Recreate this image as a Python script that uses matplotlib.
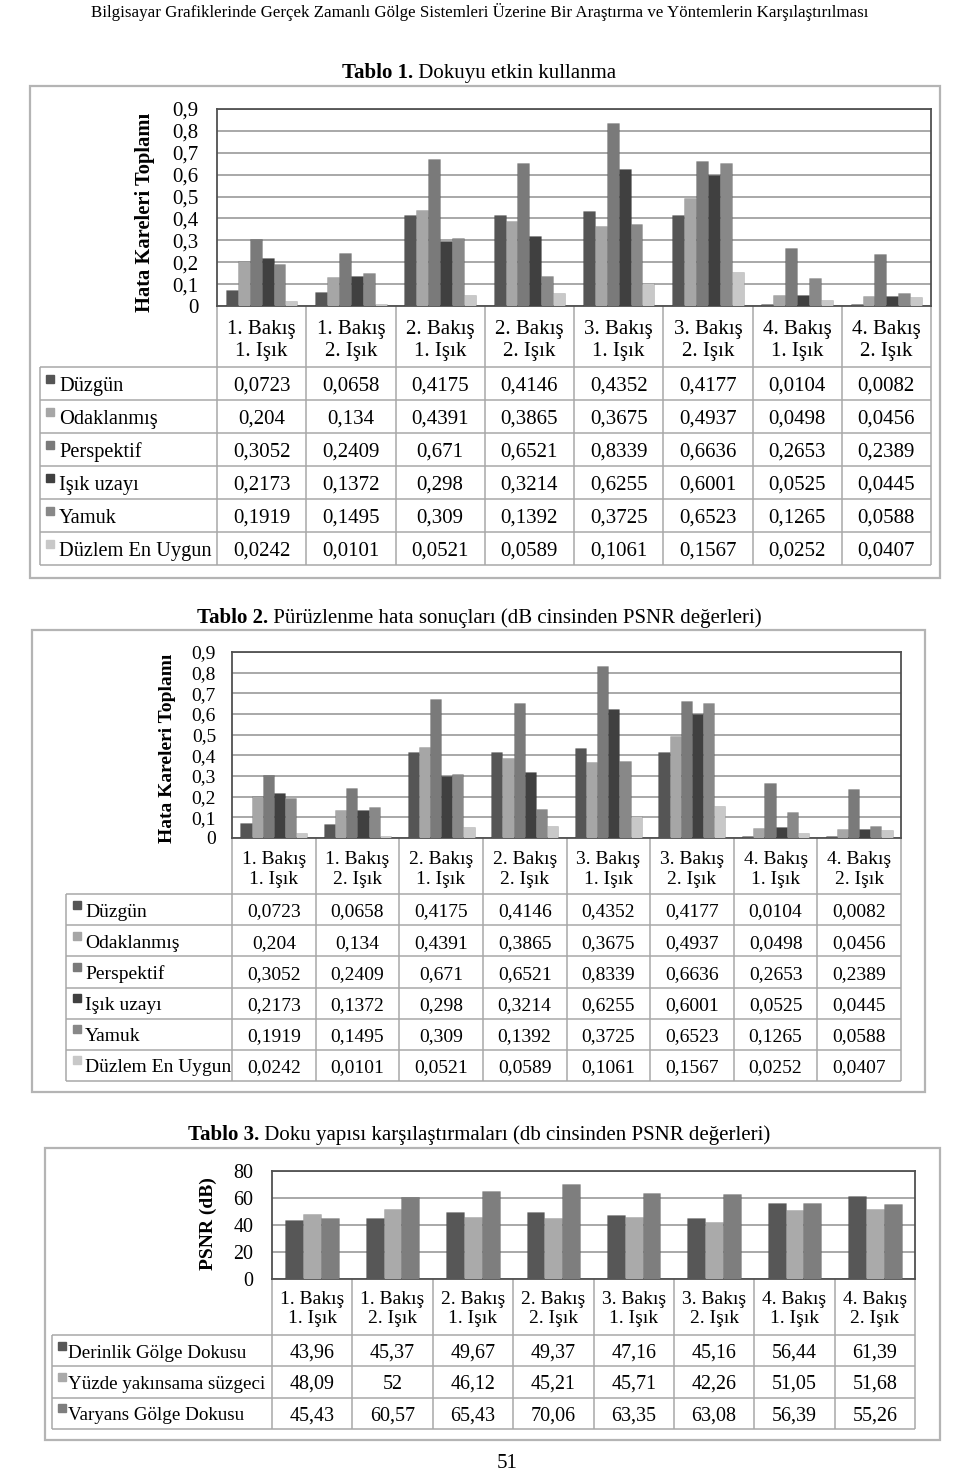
import numpy as np
import matplotlib
matplotlib.use('Agg')
import matplotlib.pyplot as plt
from matplotlib.patches import Rectangle
from matplotlib.ticker import FuncFormatter

plt.rcParams['font.family'] = ['Liberation Serif', 'DejaVu Serif']

# kategoriler
kategoriler = ["1. Bakış\n1. Işık", "1. Bakış\n2. Işık", "2. Bakış\n1. Işık", "2. Bakış\n2. Işık",
               "3. Bakış\n1. Işık", "3. Bakış\n2. Işık", "4. Bakış\n1. Işık", "4. Bakış\n2. Işık"]

# Tablo 1 / Tablo 2 verisi (hata kareleri toplami)
duzgun = [0.0723, 0.0658, 0.4175, 0.4146, 0.4352, 0.4177, 0.0104, 0.0082]
odaklanmis = [0.204, 0.134, 0.4391, 0.3865, 0.3675, 0.4937, 0.0498, 0.0456]
perspektif = [0.3052, 0.2409, 0.671, 0.6521, 0.8339, 0.6636, 0.2653, 0.2389]
isik_uzayi = [0.2173, 0.1372, 0.298, 0.3214, 0.6255, 0.6001, 0.0525, 0.0445]
yamuk = [0.1919, 0.1495, 0.309, 0.1392, 0.3725, 0.6523, 0.1265, 0.0588]
duzlem = [0.0242, 0.0101, 0.0521, 0.0589, 0.1061, 0.1567, 0.0252, 0.0407]
hata_isimler = ["Düzgün", "Odaklanmış", "Perspektif", "Işık uzayı", "Yamuk", "Düzlem En Uygun"]
hata_renkler = ['#555555', '#a6a6a6', '#7a7a7a', '#404040', '#888888', '#c8c8c8']

# Tablo 3 verisi (PSNR)
derinlik = [43.96, 45.37, 49.67, 49.37, 47.16, 45.16, 56.44, 61.39]
yuzde = [48.09, 52, 46.12, 45.21, 45.71, 42.26, 51.05, 51.68]
varyans = [45.43, 60.57, 65.43, 70.06, 63.35, 63.08, 56.39, 55.26]
psnr_isimler = ["Derinlik Gölge Dokusu", "Yüzde yakınsama süzgeci", "Varyans Gölge Dokusu"]
psnr_renkler = ['#575757', '#aaaaaa', '#7e7e7e']

W, H = 960, 1474
fig = plt.figure(figsize=(W / 100, H / 100), dpi=100)
fig.patch.set_facecolor('white')

# sayfa katmani (piksel koordinatlari)
ov = fig.add_axes([0, 0, 1, 1])
ov.set_xlim(0, W)
ov.set_ylim(H, 0)
ov.axis('off')

renderer = fig.canvas.get_renderer()
CIZGI = '#a8a8a8'


def baslik(y, kalin, normal, fs):
    t1 = ov.text(0, y, kalin, fontsize=fs, fontweight='bold', va='center', ha='left')
    t2 = ov.text(0, y, normal, fontsize=fs, va='center', ha='left')
    w1 = t1.get_window_extent(renderer).width
    w2 = t2.get_window_extent(renderer).width
    x0 = 479 - (w1 + w2) / 2
    t1.set_x(x0)
    t2.set_x(x0 + w1)


def virgul(v):
    return f"{v:g}".replace('.', ',')


def grafik(cerceve, alan, alt, seriler, renkler, ylim, yticks, fs_tick, fs_kat, pad, kat_pad):
    fx0, fy0, fx1, fy1 = cerceve
    ov.add_patch(Rectangle((fx0, fy0), fx1 - fx0, fy1 - fy0, fill=False,
                           edgecolor='#b4b4b4', lw=1.6))
    x0, y0, x1, y1 = alan
    ax = fig.add_axes([x0 / W, 1 - y1 / H, (x1 - x0) / W, (y1 - y0) / H])
    n = len(seriler)
    w = 1 / (n + 1.5)
    xs = np.arange(len(kategoriler))
    for i, (s, c) in enumerate(zip(seriler, renkler)):
        ax.bar(xs + (i - (n - 1) / 2) * w, s, width=w, color=c,
               edgecolor='#00000030', lw=0.4, zorder=3)
    ax.set_xlim(-0.5, len(kategoriler) - 0.5)
    ax.set_ylim(*ylim)
    ax.set_yticks(yticks)
    ax.yaxis.set_major_formatter(FuncFormatter(lambda v, p: virgul(round(v, 2))))
    ax.tick_params(axis='y', length=0, pad=pad, labelsize=fs_tick)
    ax.set_xticks(xs)
    ax.set_xticklabels(kategoriler, fontsize=fs_kat, linespacing=1.2)
    ax.tick_params(axis='x', length=0, pad=kat_pad)
    ax.grid(axis='y', color='#9a9a9a', lw=1.2)
    ax.set_axisbelow(True)
    for sp in ax.spines.values():
        sp.set_color('#505050')
        sp.set_linewidth(1.3)

    # kategori sirasi ayiricilari
    hucre = (x1 - x0) / len(kategoriler)
    kenarlar = [x0 + k * hucre for k in range(len(kategoriler) + 1)]
    ov.vlines(kenarlar, y1, alt, color=CIZGI, lw=1.1)
    return kenarlar, hucre


def tablo(kenarlar, hucre, sol, ust, alt, seriler, isimler, renkler, fs_deger, fs_ad, kare_x, yazi_x):
    n = len(seriler)
    satir_h = (alt - ust) / n
    ys = [ust + k * satir_h for k in range(n + 1)]
    ov.hlines(ys, sol, kenarlar[-1], color=CIZGI, lw=1.1)
    ov.vlines([sol], ust, alt, color=CIZGI, lw=1.1)
    for r, (s, ad, c) in enumerate(zip(seriler, isimler, renkler)):
        yc = ust + (r + 0.5) * satir_h
        ov.add_patch(Rectangle((sol + kare_x, yc - 9), 8, 8, color=c))
        ov.text(sol + yazi_x, yc + 7, ad, fontsize=fs_ad, ha='left', va='baseline')
        for k, v in enumerate(s):
            ov.text(kenarlar[k] + hucre / 2, yc + 7, virgul(v), fontsize=fs_deger,
                    ha='center', va='baseline')


# ust bilgi
ov.text(480, 12, "Bilgisayar Grafiklerinde Gerçek Zamanlı Gölge Sistemleri Üzerine Bir Araştırma ve Yöntemlerin Karşılaştırılması",
        fontsize=12.2, ha='center', va='center')

hata_seriler = [duzgun, odaklanmis, perspektif, isik_uzayi, yamuk, duzlem]
psnr_seriler = [derinlik, yuzde, varyans]
hata_ticks = np.round(np.arange(0, 1.0, 0.1), 1)

# Tablo 1
baslik(73, "Tablo 1.", " Dokuyu etkin kullanma", 15)
k1, h1 = grafik((30, 86, 940, 578), (217, 109, 931, 306), 565, hata_seriler, hata_renkler,
                (0, 0.9), hata_ticks, 15, 15, 13.5, 10)
ov.text(145, 212, "Hata Kareleri Toplamı", rotation=90, fontsize=14.8, fontweight='bold',
        ha='center', va='center')
tablo(k1, h1, 40, 367, 565, hata_seriler, hata_isimler, hata_renkler, 15, 14.7, 6, 19)

# Tablo 2
baslik(618, "Tablo 2.", " Pürüzlenme hata sonuçları (dB cinsinden PSNR değerleri)", 15)
k2, h2 = grafik((32, 630, 925, 1092), (232, 652, 901, 838), 1081, hata_seriler, hata_renkler,
                (0, 0.9), hata_ticks, 14, 14, 11.5, 9.5)
ov.text(167, 748, "Hata Kareleri Toplamı", rotation=90, fontsize=14, fontweight='bold',
        ha='center', va='center')
tablo(k2, h2, 66, 894, 1081, hata_seriler, hata_isimler, hata_renkler, 14, 14, 7, 19)

# Tablo 3
baslik(1135, "Tablo 3.", " Doku yapısı karşılaştırmaları (db cinsinden PSNR değerleri)", 15)
k3, h3 = grafik((45, 1148, 940, 1440), (272, 1171, 915, 1279), 1429, psnr_seriler, psnr_renkler,
                (0, 80), [0, 20, 40, 60, 80], 14.4, 14, 13.5, 8.5)
ov.text(208, 1224, "PSNR (dB)", rotation=90, fontsize=14, fontweight='bold',
        ha='center', va='center')
tablo(k3, h3, 52, 1335, 1429, psnr_seriler, psnr_isimler, psnr_renkler, 14.4, 13.7, 6, 16)

ov.text(507, 1463, "51", fontsize=15, ha='center', va='center')

fig.savefig('out.png', dpi=100, facecolor='white')
